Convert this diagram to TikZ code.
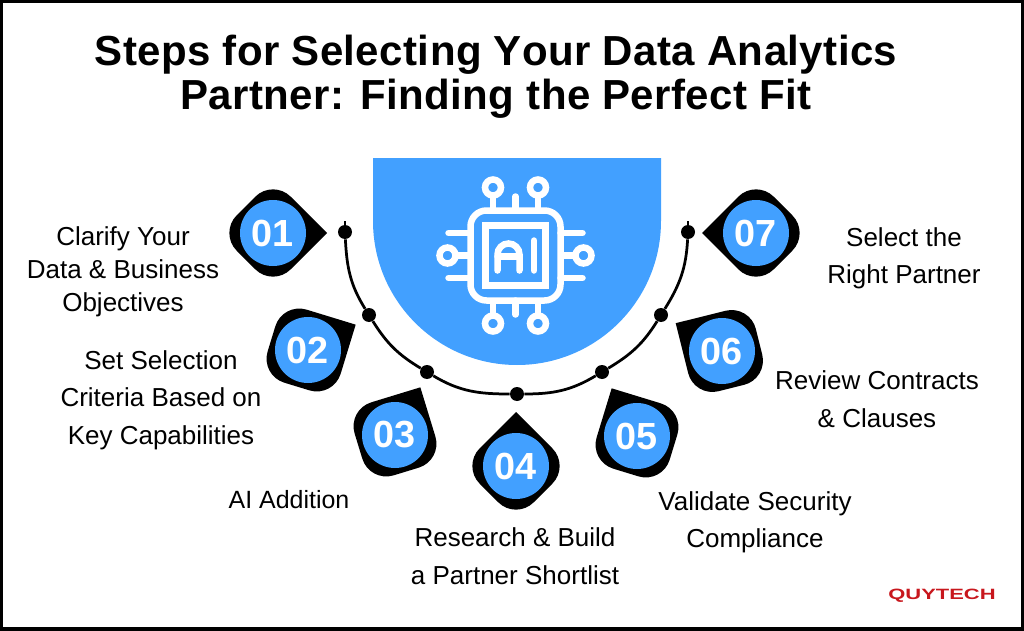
\documentclass[tikz,border=0pt]{standalone}
\usepackage{fontspec}
\setmainfont{Liberation Sans}
\newfontfamily\titlefont[LetterSpace=1,Kerning=Off]{Liberation Sans Bold}
\usepackage{xcolor}
\usetikzlibrary{arrows.meta,positioning}
\definecolor{chipblue}{HTML}{42A0FF}
\definecolor{logored}{HTML}{C8171D}

\begin{document}
\begin{tikzpicture}[
    numdisc/.style={circle, fill=chipblue, text=white, minimum size=1.32cm, inner sep=0pt,
                    font=\fontsize{21.5}{21.5}\selectfont\bfseries},
    dot/.style={circle, fill=black, minimum size=.28cm, inner sep=0pt},
    steptext/.style={align=center, font=\fontsize{14.8}{21.3}\selectfont},
    curve/.style={line width=.055cm},
    iconline/.style={white, line width=.13cm, line cap=round},
    drop/.pic={
        \fill[black] (1.08,0) [rounded corners=.5cm] -- (0,1.08) -- (-1.08,0) -- (0,-1.08) -- (1.08,0);
    }
]
\useasboundingbox (0,0) rectangle (20.48,12.6);

% Frame
\draw[line width=.12cm] (0,0) rectangle (20.48,12.6);

% Title
\node[align=center, font=\fontsize{23.9}{25}\selectfont\titlefont] (title) at (9.92,11.06)
    {Steps for Selecting Your Data Analytics\\Partner: Finding the Perfect Fit};

% Half disc
\fill[chipblue] (7.46,9.44) -- (13.22,9.44) -- (13.22,8.18) arc[start angle=0, end angle=-180, radius=2.88] -- cycle;

% Chip icon
\begin{scope}[shift={(10.31,7.49)}]
\draw[iconline, rounded corners=.32cm] (-.9,-.9) rectangle (.9,.9);
\draw[iconline, line cap=butt] (-.6,-.6) rectangle (.6,.6);
\draw[iconline] (-.36,-.3) -- (-.36,.02) arc[start angle=180, end angle=0, radius=.22] -- (.08,-.3);
\draw[iconline] (-.36,-.02) -- (.08,-.02);
\draw[iconline] (.37,-.3) -- (.37,.3);
% pins
\draw[iconline] (0,.9) -- (0,1.18);
\draw[iconline] (0,-.9) -- (0,-1.18);
\draw[iconline] (-.9,.45) -- (-1.34,.45);
\draw[iconline] (-.9,-.45) -- (-1.34,-.45);
\draw[iconline] (.9,.45) -- (1.34,.45);
\draw[iconline] (.9,-.45) -- (1.34,-.45);
\draw[iconline, line cap=butt] (-.45,.9) -- (-.45,1.2);
\draw[iconline, line cap=butt] (.45,.9) -- (.45,1.2);
\draw[iconline, line cap=butt] (-.45,-.9) -- (-.45,-1.2);
\draw[iconline, line cap=butt] (.45,-.9) -- (.45,-1.2);
\draw[iconline, line cap=butt] (-.9,0) -- (-1.2,0);
\draw[iconline, line cap=butt] (.9,0) -- (1.2,0);
\draw[iconline] (-.45,1.36) circle (.16);
\draw[iconline] (.45,1.36) circle (.16);
\draw[iconline] (-.45,-1.36) circle (.16);
\draw[iconline] (.45,-1.36) circle (.16);
\draw[iconline] (-1.36,0) circle (.16);
\draw[iconline] (1.36,0) circle (.16);
\end{scope}

% Dots on the curve
\node[dot] (D1) at (6.9,7.96) {};
\node[dot] (D2) at (7.38,6.3) {};
\node[dot] (D3) at (8.54,5.16) {};
\node[dot] (D4) at (10.34,4.72) {};
\node[dot] (D5) at (12.04,5.16) {};
\node[dot] (D6) at (13.22,6.3) {};
\node[dot] (D7) at (13.76,7.96) {};
\coordinate (T1) at (6.9,8.18);
\coordinate (T7) at (13.76,8.18);

% Curve
\draw[curve] (T1) -- (D1);
\draw[curve] (D1) to[out=-87, in=122] (D2);
\draw[curve] (D2) to[out=-58, in=149] (D3);
\draw[curve] (D3) to[out=-31, in=180] (D4);
\draw[curve] (D4) to[out=0, in=-149] (D5);
\draw[curve] (D5) to[out=31, in=-122] (D6);
\draw[curve] (D6) to[out=58, in=-93] (D7);
\draw[curve] (D7) -- (T7);

% Badges
\pic[rotate=0] at (5.46,7.94) {drop};
\pic[rotate=28] at (6.16,5.6) {drop};
\pic[rotate=62] at (7.9,3.9) {drop};
\pic[rotate=90] at (10.32,3.28) {drop};
\pic[rotate=118] at (12.74,3.88) {drop};
\pic[rotate=149] at (14.44,5.58) {drop};
\pic[rotate=180] at (15.12,7.94) {drop};
\node[numdisc] (N1) at (5.46,7.94) {01};
\node[numdisc] (N2) at (6.16,5.6) {02};
\node[numdisc] (N3) at (7.9,3.9) {03};
\node[numdisc] (N4) at (10.32,3.28) {04};
\node[numdisc] (N5) at (12.74,3.88) {05};
\node[numdisc] (N6) at (14.44,5.58) {06};
\node[numdisc] (N7) at (15.12,7.94) {07};

% Labels
\node[steptext, font=\fontsize{14.8}{18.7}\selectfont] (L1) at (2.46,7.17) {Clarify Your\\Data \& Business\\Objectives};
\node[steptext] (L2) at (3.22,4.6) {Set Selection\\Criteria Based on\\Key Capabilities};
\node[steptext, font=\fontsize{14.2}{21}\selectfont] (L3) at (5.78,2.6) {AI Addition};
\node[steptext] (L4) at (10.3,1.48) {Research \& Build\\a Partner Shortlist};
\node[steptext] (L5) at (15.1,2.16) {Validate Security\\Compliance};
\node[steptext] (L6) at (17.54,4.62) {Review Contracts\\\& Clauses};
\node[steptext] (L7) at (18.08,7.44) {Select the\\Right Partner};

% Logo
\node[text=logored, xscale=1.47, font=\fontsize{8.5}{8.5}\selectfont\bfseries] (logo) at (18.84,.69) {QUYTECH};

\end{tikzpicture}
\end{document}
